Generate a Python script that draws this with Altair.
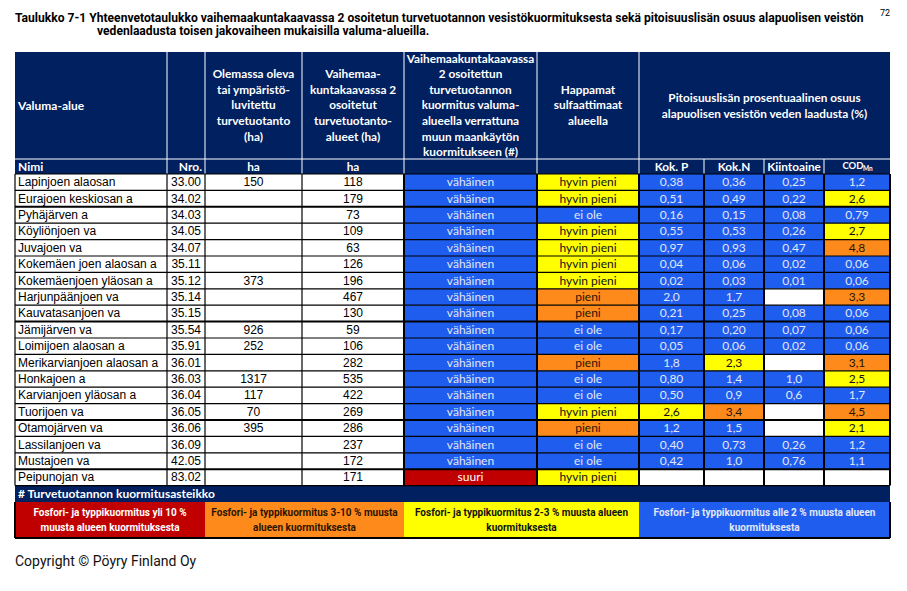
import altair as alt
import pandas as pd

# ---------------- data ----------------
names = ["Lapinjoen alaosan", "Eurajoen keskiosan a", "Pyhäjärven a", "Köyliönjoen va",
         "Juvajoen va", "Kokemäen joen alaosan a", "Kokemäenjoen yläosan a",
         "Harjunpäänjoen va", "Kauvatasanjoen va", "Jämijärven va", "Loimijoen alaosan a",
         "Merikarvianjoen alaosan a", "Honkajoen a", "Karvianjoen yläosan a", "Tuorijoen va",
         "Otamojärven va", "Lassilanjoen va", "Mustajoen va", "Peipunojan va"]
nro = ["33.00", "34.02", "34.03", "34.05", "34.07", "35.11", "35.12", "35.14", "35.15",
       "35.54", "35.91", "36.01", "36.03", "36.04", "36.05", "36.06", "36.09", "42.05", "83.02"]
olemassa = ["150", "", "", "", "", "", "373", "", "", "926", "252", "", "1317", "117",
            "70", "395", "", "", ""]
vaihemaa = ["118", "179", "73", "109", "63", "126", "196", "467", "130", "59", "106",
            "282", "535", "422", "269", "286", "237", "172", "171"]
kuormitus = ["vähäinen"] * 18 + ["suuri"]
happamat = ["hyvin pieni", "hyvin pieni", "ei ole", "hyvin pieni", "hyvin pieni",
            "hyvin pieni", "hyvin pieni", "pieni", "pieni", "ei ole", "ei ole", "pieni",
            "ei ole", "ei ole", "hyvin pieni", "pieni", "ei ole", "ei ole", "hyvin pieni"]
kok_p = ["0,38", "0,51", "0,16", "0,55", "0,97", "0,04", "0,02", "2,0", "0,21", "0,17",
         "0,05", "1,8", "0,80", "0,50", "2,6", "1,2", "0,40", "0,42", ""]
kok_n = ["0,36", "0,49", "0,15", "0,53", "0,93", "0,06", "0,03", "1,7", "0,25", "0,20",
         "0,06", "2,3", "1,4", "0,9", "3,4", "1,5", "0,73", "1,0", ""]
kiinto = ["0,25", "0,22", "0,08", "0,26", "0,47", "0,02", "0,01", "", "0,08", "0,07",
          "0,02", "", "1,0", "0,6", "", "", "0,26", "0,76", ""]
cod = ["1,2", "2,6", "0,79", "2,7", "4,8", "0,06", "0,06", "3,3", "0,06", "0,06", "0,06",
       "3,1", "2,5", "1,7", "4,5", "2,1", "1,2", "1,1", ""]

title_line1 = ("Taulukko 7-1 Yhteenvetotaulukko vaihemaakuntakaavassa 2 osoitetun turvetuotannon "
               "vesistökuormituksesta sekä pitoisuuslisän osuus alapuolisen veistön")
title_line2 = "vedenlaadusta toisen jakovaiheen mukaisilla valuma-alueilla."
page_no = "72"
header_main = ["Valuma-alue", "",
               "Olemassa oleva\ntai ympäristö-\nluvitettu\nturvetuotanto\n(ha)",
               "Vaihemaa-\nkuntakaavassa 2\nosoitetut\nturvetuotanto-\nalueet (ha)",
               "Vaihemaakuntakaavassa\n2 osoitettun\nturvetuotannon\nkuormitus valuma-\nalueella verrattuna\nmuun maankäytön\nkuormitukseen (#)",
               "Happamat\nsulfaattimaat\nalueella"]
header_pct = "Pitoisuuslisän prosentuaalinen osuus\nalapuolisen vesistön veden laadusta (%)"
header_sub = ["Nimi", "Nro.", "ha", "ha", "", "", "Kok. P", "Kok.N", "Kiintoaine", "COD"]
cod_sub = "Mn"
note_text = "# Turvetuotannon kuormitusasteikko"
legend_texts = ["Fosfori- ja typpikuormitus yli 10 %\nmuusta alueen kuormituksesta",
                "Fosfori- ja typpikuormitus  3-10 % muusta\nalueen kuormituksesta",
                "Fosfori- ja typpikuormitus 2-3 % muusta alueen\nkuormituksesta",
                "Fosfori- ja typpikuormitus alle 2 % muusta alueen\nkuormituksesta"]
legend_levels = ["red", "orange", "yellow", "blue"]
copyright_text = "Copyright © Pöyry Finland Oy"

# ---------------- layout / style ----------------
W, H = 891, 575
X0, Y0 = 8, 8
cols = [15, 167, 205, 302, 404, 537, 639, 704, 764, 824, 890]
HEAD_TOP, HEAD_MID, BODY_TOP = 52, 159, 174
ROW_H = 16.4
n = len(names)
BODY_BOT = BODY_TOP + n * ROW_H
NOTE_BOT = BODY_BOT + 16.5
LEG_BOT = NOTE_BOT + 36

NARROW = "Roboto, Liberation Sans, sans-serif"
ARIAL = "Liberation Sans, Arial, sans-serif"
CAL = "Lato, Open Sans, sans-serif"

level_domain = ["navy", "blue", "yellow", "orange", "red", "white"]
level_range = ["#002060", "#1F5DEE", "#FFFF00", "#FF8A1C", "#C00000", "#FFFFFF"]
text_on = {"blue": "#E2E7F5", "yellow": "#111111", "orange": "#2A1500",
           "red": "#FFFFFF", "white": "#000000", "navy": "#FFFFFF"}


def pct_level(s):
    if s == "":
        return "white"
    v = float(s.replace(",", "."))
    if v <= 2.0:
        return "blue"
    if v < 3.0:
        return "yellow"
    return "orange"


kuorm_level = {"vähäinen": "blue", "suuri": "red"}
happ_level = {"ei ole": "blue", "hyvin pieni": "yellow", "pieni": "orange"}

styles = {
    "head_left": dict(font=CAL, fontSize=12, fontWeight="bold", align="left"),
    "head_right": dict(font=CAL, fontSize=12, fontWeight="bold", align="right"),
    "head": dict(font=CAL, fontSize=11.8, fontWeight="bold", align="center", lineHeight=15.6),
    "pct_head": dict(font=CAL, fontSize=11.8, fontWeight="bold", align="center", lineHeight=16),
    "cod": dict(font=CAL, fontSize=9.5, fontWeight="bold", align="center"),
    "codsub": dict(font=CAL, fontSize=6.5, fontWeight="bold", align="left"),
    "body_left": dict(font=ARIAL, fontSize=12, align="left"),
    "body": dict(font=ARIAL, fontSize=12, align="center"),
    "colored": dict(font=CAL, fontSize=12, align="center"),
    "legend": dict(font=NARROW, fontSize=10, fontWeight="bold", align="center", lineHeight=15),
    "title": dict(font=NARROW, fontSize=12.1, fontWeight="bold", align="left"),
    "page": dict(font=NARROW, fontSize=9, align="right"),
    "copyright": dict(font=NARROW, fontSize=14, align="left"),
}

cells, rules, texts = [], [], []


def cell(x, x2, y, y2, level):
    cells.append(dict(x=x, x2=x2, y=y, y2=y2, level=level))


def rule(x, x2, y, y2, color, w):
    rules.append(dict(x=x, x2=x2, y=y, y2=y2, color=color, w=w))


def text(x, y, t, color, style):
    lh = styles[style].get("lineHeight", 0)
    nl = t.count("\n")
    texts.append(dict(x=x, y=y - nl * lh / 2, t=t, color=color, style=style))


def cx(i, j=None):
    j = i if j is None else j
    return (cols[i] + cols[j + 1]) / 2


# header block
HC = (HEAD_TOP + HEAD_MID) / 2
cell(cols[0], cols[-1], HEAD_TOP, BODY_TOP, "navy")
text(cols[0] + 3, HC, header_main[0], "#FFFFFF", "head_left")
for i in range(2, 6):
    text(cx(i), HC, header_main[i], "#FFFFFF", "head")
text(cx(6, 9), HC, header_pct, "#FFFFFF", "pct_head")
sub_y = (HEAD_MID + BODY_TOP) / 2
text(cols[0] + 3, sub_y, header_sub[0], "#FFFFFF", "head_left")
text(cols[2] - 3, sub_y, header_sub[1], "#FFFFFF", "head_right")
for i in [2, 3, 6, 7, 8]:
    text(cx(i), sub_y, header_sub[i], "#FFFFFF", "head")
text(cx(9) - 4, sub_y - 1, header_sub[9], "#FFFFFF", "cod")
text(cx(9) + 6, sub_y + 2, cod_sub, "#FFFFFF", "codsub")
for e in cols[1:7]:
    rule(e, e, HEAD_TOP, BODY_TOP, "#FFFFFF", 1)
for e in cols[7:10]:
    rule(e, e, HEAD_MID, BODY_TOP, "#FFFFFF", 1)
rule(cols[0], cols[-1], HEAD_MID, HEAD_MID, "#FFFFFF", 1)

# body
for r in range(n):
    y1 = BODY_TOP + r * ROW_H
    y2 = y1 + ROW_H
    ym = (y1 + y2) / 2
    text(cols[0] + 3, ym, names[r], "#000000", "body_left")
    text(cx(1), ym, nro[r], "#000000", "body")
    text(cx(2), ym, olemassa[r], "#000000", "body")
    text(cx(3), ym, vaihemaa[r], "#000000", "body")
    lv = kuorm_level[kuormitus[r]]
    cell(cols[4], cols[5], y1, y2, lv)
    text(cx(4), ym, kuormitus[r], text_on[lv], "colored")
    lv = happ_level[happamat[r]]
    cell(cols[5], cols[6], y1, y2, lv)
    text(cx(5), ym, happamat[r], text_on[lv], "colored")
    for k, arr in zip(range(6, 10), [kok_p, kok_n, kiinto, cod]):
        lv = pct_level(arr[r])
        cell(cols[k], cols[k + 1], y1, y2, lv)
        text(cx(k), ym, arr[r], text_on[lv], "colored")

thick = {2, 9, 15, 18}
for r in range(n + 1):
    yy = BODY_TOP + r * ROW_H
    rule(cols[0], cols[-1], yy, yy, "#000000", 2 if r in thick else 1.2)
for k, e in enumerate(cols):
    rule(e, e, BODY_TOP, BODY_BOT, "#000000", 2 if k >= 4 else 1.2)

# note row
cell(cols[0], cols[-1], BODY_BOT, NOTE_BOT, "navy")
text(cols[0] + 3, (BODY_BOT + NOTE_BOT) / 2, note_text, "#FFFFFF", "head_left")

# legend row
leg_edges = [cols[0], cols[2], cols[4], cols[6], cols[-1]]
for i in range(4):
    cell(leg_edges[i], leg_edges[i + 1], NOTE_BOT, LEG_BOT, legend_levels[i])
    text((leg_edges[i] + leg_edges[i + 1]) / 2, (NOTE_BOT + LEG_BOT) / 2,
         legend_texts[i], text_on[legend_levels[i]], "legend")
rule(cols[0], cols[-1], LEG_BOT, LEG_BOT, "#000000", 2)
rule(cols[0], cols[0], NOTE_BOT, LEG_BOT, "#000000", 2)
rule(cols[-1], cols[-1], NOTE_BOT, LEG_BOT, "#000000", 2)

# titles and footer
text(cols[0], 18, title_line1, "#000000", "title")
text(97, 31, title_line2, "#000000", "title")
text(cols[-1], 12.5, page_no, "#000000", "page")
text(cols[0], 562, copyright_text, "#111111", "copyright")

xs = alt.Scale(domain=[X0, X0 + W], nice=False, zero=False)
ys = alt.Scale(domain=[Y0, Y0 + H], nice=False, zero=False, reverse=True)

cells_df = pd.DataFrame(cells)
rules_df = pd.DataFrame(rules)
texts_df = pd.DataFrame(texts)

rect_layer = alt.Chart(cells_df).mark_rect().encode(
    x=alt.X("x:Q", scale=xs, axis=None), x2="x2:Q",
    y=alt.Y("y:Q", scale=ys, axis=None), y2="y2:Q",
    color=alt.Color("level:N", scale=alt.Scale(domain=level_domain, range=level_range), legend=None),
)
rule_layer = alt.Chart(rules_df).mark_rule().encode(
    x=alt.X("x:Q", scale=xs, axis=None), x2="x2:Q",
    y=alt.Y("y:Q", scale=ys, axis=None), y2="y2:Q",
    color=alt.Color("color:N", scale=None),
    strokeWidth=alt.StrokeWidth("w:Q", scale=None),
)
layers = [rect_layer, rule_layer]
for sname, st in styles.items():
    sub = texts_df[texts_df["style"] == sname]
    if len(sub) == 0:
        continue
    layers.append(
        alt.Chart(sub).mark_text(baseline="middle", lineBreak="\n", **st).encode(
            x=alt.X("x:Q", scale=xs, axis=None),
            y=alt.Y("y:Q", scale=ys, axis=None),
            text="t:N",
            color=alt.Color("color:N", scale=None),
        )
    )

chart = alt.layer(*layers).properties(
    width=W, height=H, padding=0, autosize="none", background="#FFFFFF"
).configure_view(strokeWidth=0)

chart.save("out.html", embed_options={"renderer": "svg", "actions": False})
